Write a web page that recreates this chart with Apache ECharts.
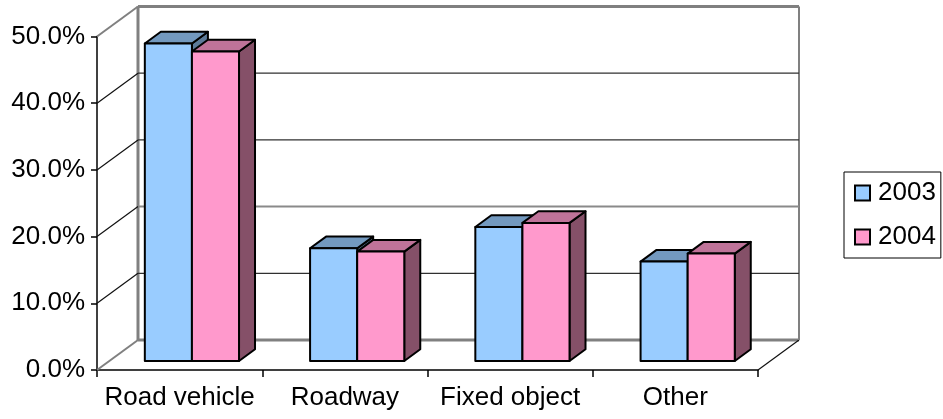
<!DOCTYPE html>
<html><head><meta charset="utf-8">
<style>html,body{margin:0;padding:0;background:#fff}#c{width:943px;height:419px}</style>
<script src="https://cdn.jsdelivr.net/npm/echarts@6/dist/echarts.min.js"></script>
</head><body><div id="c"></div>
<script>
const categories = ['Road vehicle','Roadway','Fixed object','Other'];
const values2003 = [47.6,16.9,20.1,14.9];
const values2004 = [46.4,16.4,20.7,16.1];
const ticks = [0,10,20,30,40,50];
const DX=41, DY=-30;           // depth of the 3D box
const NEAR=0.30, FAR=0.69;     // bar depth as a fraction of the box
const GAP=0.215;               // side gap as a fraction of the category

function line(x1,y1,x2,y2,stroke,w){
  return {type:'line',shape:{x1,y1,x2,y2},style:{stroke,lineWidth:w,fill:null}};
}
function wall(params,api){
  const v=api.value(0);
  const p=api.coord([0,v]);
  const x0=p[0]-api.size([1,0])[0]/2, y=p[1];
  const w=api.size([1,0])[0]*categories.length;
  const ch=[];
  const isEdge=(v===0||v===50);
  const heavy=(v===20);
  const col=isEdge?'#808080':heavy?'#8a8a8a':'#303030';
  const lw=isEdge?3:heavy?2:1.2;
  ch.push(line(x0+DX,y+DY,x0+w+DX,y+DY,col,lw));
  ch.push(line(x0,y,x0+DX,y+DY,isEdge?'#808080':'#111',isEdge?2:1.2));
  if(v===0){
    ch.push(line(x0+w,y,x0+w+DX,y+DY,'#111',1.2));
    const t=api.coord([0,50])[1];
    ch.push(line(x0+DX,y+DY,x0+DX,t+DY,'#808080',3));
    ch.push(line(x0+w+DX,y+DY,x0+w+DX,t+DY,'#808080',2));
  }
  return {type:'group',children:ch};
}
function bar(k,front,top,side){
  return function(params,api){
    const i=api.value(0), v=api.value(1);
    const a=api.coord([i,v]), b=api.coord([i,0]);
    const cw=api.size([1,0])[0];
    const bw=cw*(1-2*GAP)/2;
    const xl=a[0]-cw/2+GAP*cw+k*bw+NEAR*DX;
    const xr=xl+bw;
    const yt=a[1]+NEAR*DY, yb=b[1]+NEAR*DY;
    const dx=(FAR-NEAR)*DX, dy=(FAR-NEAR)*DY;
    const st=f=>({fill:f,stroke:'#000',lineWidth:2,lineJoin:'round'});
    return {type:'group',children:[
      {type:'polygon',shape:{points:[[xr,yt],[xr+dx,yt+dy],[xr+dx,yb+dy],[xr,yb]]},style:st(side)},
      {type:'polygon',shape:{points:[[xl,yt],[xl+dx,yt+dy],[xr+dx,yt+dy],[xr,yt]]},style:st(top)},
      {type:'rect',shape:{x:xl,y:yt,width:xr-xl,height:yb-yt},style:st(front)}
    ]};
  };
}
const FONT='"Liberation Sans", Arial, sans-serif';
const chart=echarts.init(document.getElementById('c'),null,{renderer:'canvas'});
chart.setOption({
  animation:false,
  backgroundColor:'#fff',
  grid:{left:97,right:185,top:36.5,bottom:49,containLabel:false},
  legend:{
    data:['2003','2004'],orient:'vertical',left:844,top:172,
    padding:[8,5,8,10],itemGap:18,
    itemWidth:15,itemHeight:15,
    backgroundColor:'#fff',borderColor:'#000',borderWidth:1,borderRadius:0,
    textStyle:{fontFamily:FONT,fontSize:26,color:'#000',padding:[0,0,0,3]},
    icon:'rect'
  },
  xAxis:{type:'category',data:categories,boundaryGap:true,
    axisLine:{lineStyle:{color:'#000',width:1.5}},
    axisTick:{show:true,length:7,lineStyle:{color:'#000',width:1.5}},
    axisLabel:{fontFamily:FONT,fontSize:26,color:'#000',margin:15,interval:0},
    splitLine:{show:false}},
  yAxis:{type:'value',min:0,max:50,interval:10,
    axisLine:{show:true,lineStyle:{color:'#000',width:1.5}},
    axisTick:{show:true,length:6,lineStyle:{color:'#000',width:1.5}},
    axisLabel:{fontFamily:FONT,fontSize:26,color:'#000',margin:12,formatter:v=>v.toFixed(1)+'%'},
    splitLine:{show:false}},
  series:[
    {type:'custom',name:'walls',z:1,silent:true,renderItem:wall,
     encode:{y:0},data:ticks.map(v=>[v])},
    {type:'custom',name:'2003',z:3,renderItem:bar(0,'#99CCFF','#7399BF','#5C7A99'),
     itemStyle:{color:'#99CCFF',borderColor:'#000',borderWidth:2},
     encode:{x:0,y:1},data:values2003.map((v,i)=>[i,v])},
    {type:'custom',name:'2004',z:4,renderItem:bar(1,'#FF99CC','#BF7399','#855068'),
     itemStyle:{color:'#FF99CC',borderColor:'#000',borderWidth:2},
     encode:{x:0,y:1},data:values2004.map((v,i)=>[i,v])}
  ]
});
</script></body></html>
